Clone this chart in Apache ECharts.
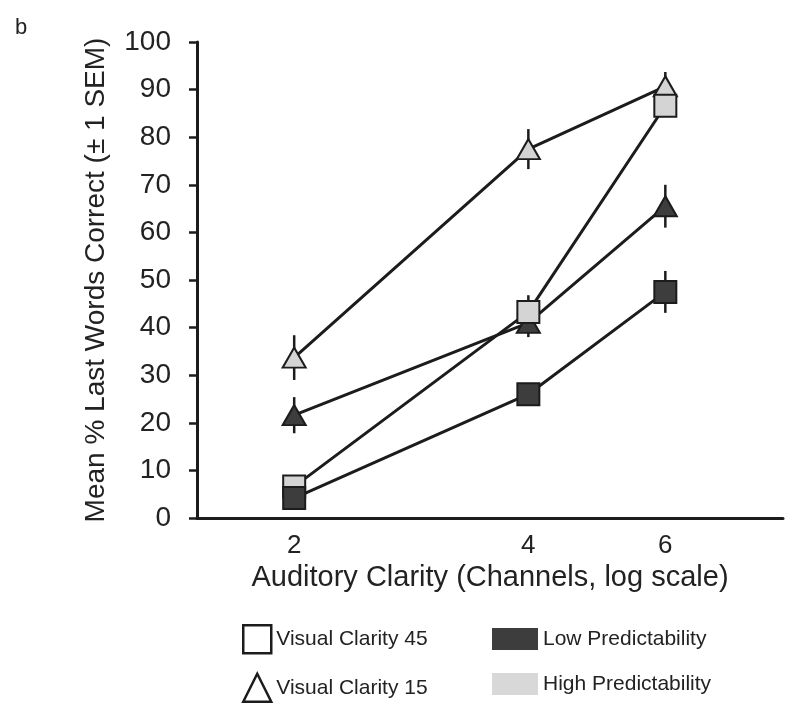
<!DOCTYPE html>
<html>
<head>
<meta charset="utf-8">
<script src="https://cdn.jsdelivr.net/npm/echarts@6/dist/echarts.min.js"></script>
<style>html,body{margin:0;padding:0;background:#fff}#c{width:800px;height:717px}</style>
</head>
<body>
<div id="c"></div>
<script>
// Auditory clarity (number of channels), plotted on a log scale
const channels = [2, 4, 6];
const yTicks = [0, 10, 20, 30, 40, 50, 60, 70, 80, 90, 100];

// Mean % last words correct
const vc15High = [33.7, 77.5, 90.7];
const vc15Low  = [21.6, 41.0, 65.5];
const vc45High = [6.6, 43.3, 86.6];
const vc45Low  = [4.2, 26.0, 47.5];

// ± 1 SEM
const vc15HighSem = [4.7, 4.2, 3.0];
const vc15LowSem  = [3.8, 3.0, 4.5];
const vc45HighSem = [1.5, 3.5, 2.0];
const vc45LowSem  = [1.5, 2.0, 4.4];

const legendShapes = ['Visual Clarity 45', 'Visual Clarity 15'];
const legendFills = ['Low Predictability', 'High Predictability'];

const DARK = '#3d3d3d', LIGHT = '#d4d4d4', INK = '#1c1c1c';
const FONT = '"Liberation Sans", Arial, Helvetica, sans-serif';

const lx = channels.map(v => Math.log10(v));
const pts = arr => arr.map((v, i) => [lx[i], v]);

const errRows = [];
[[vc15High, vc15HighSem], [vc15Low, vc15LowSem], [vc45High, vc45HighSem], [vc45Low, vc45LowSem]]
  .forEach(([m, s]) => m.forEach((v, i) => errRows.push([lx[i], v - s[i], v + s[i]])));

function lineSeries(name, data, symbol, size, fill) {
  return {
    name, type: 'line', data: pts(data), z: 3,
    symbol, symbolSize: size,
    lineStyle: { color: INK, width: 3 },
    itemStyle: { color: fill, borderColor: INK, borderWidth: 2 },
    emphasis: { disabled: true }, animation: false
  };
}

const chart = echarts.init(document.getElementById('c'), null, { renderer: 'canvas' });
chart.setOption({
  animation: false,
  backgroundColor: '#fff',
  textStyle: { fontFamily: FONT },
  title: { text: 'b', left: 10, top: 12, textStyle: { fontSize: 22, fontWeight: 'normal', color: '#222', fontFamily: FONT } },
  grid: { left: 197, right: 17, top: 42, bottom: 199, containLabel: false },
  xAxis: {
    type: 'value',
    min: Math.log10(1.5), max: Math.log10(8.5),
    name: 'Auditory Clarity (Channels, log scale)',
    nameLocation: 'middle', nameGap: 43,
    nameTextStyle: { fontSize: 29, color: '#222', fontFamily: FONT },
    axisLine: { lineStyle: { color: INK, width: 3 } },
    axisTick: { show: false },
    splitLine: { show: false },
    axisLabel: {
      customValues: lx, margin: 15, fontSize: 26, color: '#222', fontFamily: FONT,
      formatter: v => String(Math.round(Math.pow(10, v)))
    }
  },
  yAxis: {
    type: 'value', min: 0, max: 100, interval: 10,
    name: 'Mean % Last Words Correct (± 1 SEM)',
    nameLocation: 'middle', nameGap: 87,
    nameTextStyle: { fontSize: 28, color: '#222', fontFamily: FONT },
    axisLine: { show: true, lineStyle: { color: INK, width: 3 } },
    axisTick: { show: true, length: 8, lineStyle: { color: INK, width: 2.5 } },
    splitLine: { show: false },
    axisLabel: { margin: 26, fontSize: 28, color: '#222', fontFamily: FONT,
      customValues: yTicks }
  },
  legend: [
    {
      left: 237, top: 619, orient: 'vertical', itemGap: 18,
      itemWidth: 28, itemHeight: 28, selectedMode: false,
      textStyle: { fontSize: 21, color: '#222', fontFamily: FONT },
      data: [
        { name: legendShapes[0], icon: 'rect', itemStyle: { color: '#fff', borderColor: INK, borderWidth: 2.5, opacity: 1 } },
        { name: legendShapes[1], icon: 'triangle', itemStyle: { color: '#fff', borderColor: INK, borderWidth: 2.5, opacity: 1 } }
      ]
    },
    {
      left: 487, top: 623, orient: 'vertical', itemGap: 23,
      itemWidth: 46, itemHeight: 22, selectedMode: false,
      textStyle: { fontSize: 21, color: '#222', fontFamily: FONT },
      data: [
        { name: legendFills[0], icon: 'rect', itemStyle: { color: DARK, borderWidth: 0, opacity: 1 } },
        { name: legendFills[1], icon: 'rect', itemStyle: { color: '#d8d8d8', borderWidth: 0, opacity: 1 } }
      ]
    }
  ],
  series: [
    {
      type: 'custom', name: 'sem', z: 1, data: errRows, silent: true,
      renderItem: (params, api) => {
        const a = api.coord([api.value(0), api.value(1)]);
        const b = api.coord([api.value(0), api.value(2)]);
        return { type: 'line', shape: { x1: a[0], y1: a[1], x2: b[0], y2: b[1] },
          style: { stroke: INK, lineWidth: 2.5 } };
      }
    },
    lineSeries('VC15 High', vc15High, 'triangle', [23, 20], LIGHT),
    lineSeries('VC15 Low', vc15Low, 'triangle', [23, 20], DARK),
    lineSeries('VC45 High', vc45High, 'rect', 22, LIGHT),
    lineSeries('VC45 Low', vc45Low, 'rect', 22, DARK),
    { name: legendShapes[0], type: 'line', data: [] },
    { name: legendShapes[1], type: 'line', data: [] },
    { name: legendFills[0], type: 'line', data: [] },
    { name: legendFills[1], type: 'line', data: [] }
  ]
});
</script>
</body>
</html>
